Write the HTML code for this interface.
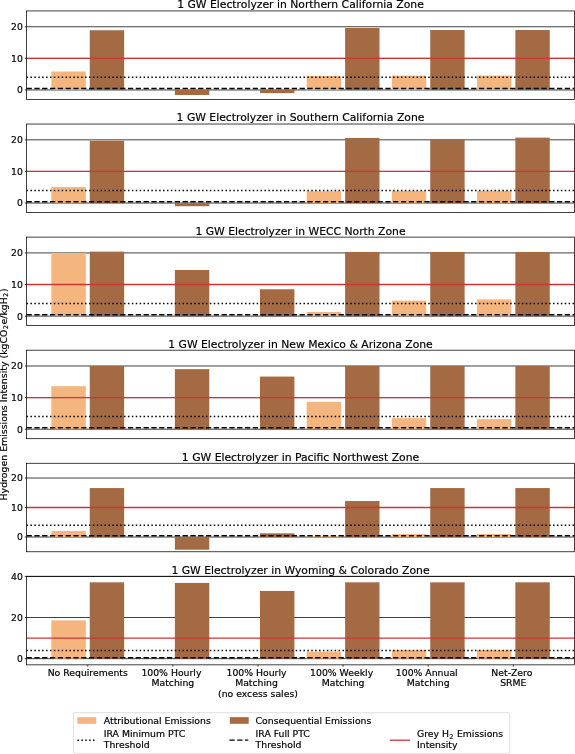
<!DOCTYPE html>
<html><head><meta charset="utf-8"><title>Hydrogen Emissions Intensity</title>
<style>
html,body{margin:0;padding:0;background:#fff;width:575px;height:754px;overflow:hidden}
svg{display:block;font-family:'DejaVu Sans', 'Liberation Sans', sans-serif;fill:#000}
text{fill:#000;stroke:#000;stroke-width:0.18px}
</style></head>
<body>
<svg width="575" height="754" viewBox="0 0 575 754">
<rect width="575" height="754" fill="#fff"/>
<line x1="26.55" x2="574.45" y1="89.97" y2="89.97" stroke="#000" stroke-width="0.75"/>
<line x1="26.55" x2="574.45" y1="58.36" y2="58.36" stroke="#000" stroke-width="0.75"/>
<line x1="26.55" x2="574.45" y1="26.75" y2="26.75" stroke="#000" stroke-width="0.75"/>
<rect x="51.35" y="71.48" width="34.4" height="18.49" fill="#f4b57e"/>
<rect x="89.75" y="30.23" width="34.4" height="59.74" fill="#a36a43"/>
<rect x="174.87" y="89.97" width="34.4" height="5.06" fill="#a36a43"/>
<rect x="259.99" y="89.97" width="34.4" height="3.16" fill="#a36a43"/>
<rect x="306.71" y="76.06" width="34.4" height="13.91" fill="#f4b57e"/>
<rect x="345.11" y="28.02" width="34.4" height="61.95" fill="#a36a43"/>
<rect x="391.83" y="75.59" width="34.4" height="14.38" fill="#f4b57e"/>
<rect x="430.23" y="30.04" width="34.4" height="59.93" fill="#a36a43"/>
<rect x="476.95" y="75.59" width="34.4" height="14.38" fill="#f4b57e"/>
<rect x="515.35" y="30.04" width="34.4" height="59.93" fill="#a36a43"/>
<line x1="26.55" x2="574.45" y1="58.36" y2="58.36" stroke="#cf3538" stroke-width="1.3"/>
<line x1="26.55" x2="574.45" y1="77.33" y2="77.33" stroke="#000" stroke-width="1.5" stroke-dasharray="1.5 2.4"/>
<line x1="26.55" x2="574.45" y1="88.55" y2="88.55" stroke="#000" stroke-width="1.5" stroke-dasharray="5.3 2.5"/>
<rect x="26.55" y="10.95" width="547.9" height="88.5" fill="none" stroke="#000" stroke-width="0.75"/>
<line x1="24.75" x2="26.55" y1="89.97" y2="89.97" stroke="#000" stroke-width="0.75"/>
<text x="22.9" y="93.37" text-anchor="end" font-size="9.3">0</text>
<line x1="24.75" x2="26.55" y1="58.36" y2="58.36" stroke="#000" stroke-width="0.75"/>
<text x="22.9" y="61.76" text-anchor="end" font-size="9.3">10</text>
<line x1="24.75" x2="26.55" y1="26.75" y2="26.75" stroke="#000" stroke-width="0.75"/>
<text x="22.9" y="30.15" text-anchor="end" font-size="9.3">20</text>
<text x="300.5" y="8.4" text-anchor="middle" font-size="10.8">1 GW Electrolyzer in Northern California Zone</text>
<line x1="26.55" x2="574.45" y1="203.05" y2="203.05" stroke="#000" stroke-width="0.75"/>
<line x1="26.55" x2="574.45" y1="171.44" y2="171.44" stroke="#000" stroke-width="0.75"/>
<line x1="26.55" x2="574.45" y1="139.83" y2="139.83" stroke="#000" stroke-width="0.75"/>
<rect x="51.35" y="186.93" width="34.4" height="16.12" fill="#f4b57e"/>
<rect x="89.75" y="140.78" width="34.4" height="62.27" fill="#a36a43"/>
<rect x="174.87" y="203.05" width="34.4" height="3.16" fill="#a36a43"/>
<rect x="306.71" y="191.2" width="34.4" height="11.85" fill="#f4b57e"/>
<rect x="345.11" y="137.94" width="34.4" height="65.11" fill="#a36a43"/>
<rect x="391.83" y="190.88" width="34.4" height="12.17" fill="#f4b57e"/>
<rect x="430.23" y="138.98" width="34.4" height="64.07" fill="#a36a43"/>
<rect x="476.95" y="190.88" width="34.4" height="12.17" fill="#f4b57e"/>
<rect x="515.35" y="137.62" width="34.4" height="65.43" fill="#a36a43"/>
<line x1="26.55" x2="574.45" y1="171.44" y2="171.44" stroke="#cf3538" stroke-width="1.3"/>
<line x1="26.55" x2="574.45" y1="190.41" y2="190.41" stroke="#000" stroke-width="1.5" stroke-dasharray="1.5 2.4"/>
<line x1="26.55" x2="574.45" y1="201.63" y2="201.63" stroke="#000" stroke-width="1.5" stroke-dasharray="5.3 2.5"/>
<rect x="26.55" y="124.03" width="547.9" height="88.5" fill="none" stroke="#000" stroke-width="0.75"/>
<line x1="24.75" x2="26.55" y1="203.05" y2="203.05" stroke="#000" stroke-width="0.75"/>
<text x="22.9" y="206.45" text-anchor="end" font-size="9.3">0</text>
<line x1="24.75" x2="26.55" y1="171.44" y2="171.44" stroke="#000" stroke-width="0.75"/>
<text x="22.9" y="174.84" text-anchor="end" font-size="9.3">10</text>
<line x1="24.75" x2="26.55" y1="139.83" y2="139.83" stroke="#000" stroke-width="0.75"/>
<text x="22.9" y="143.23" text-anchor="end" font-size="9.3">20</text>
<text x="300.5" y="121.48" text-anchor="middle" font-size="10.8">1 GW Electrolyzer in Southern California Zone</text>
<line x1="26.55" x2="574.45" y1="316.13" y2="316.13" stroke="#000" stroke-width="0.75"/>
<line x1="26.55" x2="574.45" y1="284.52" y2="284.52" stroke="#000" stroke-width="0.75"/>
<line x1="26.55" x2="574.45" y1="252.91" y2="252.91" stroke="#000" stroke-width="0.75"/>
<rect x="51.35" y="252.91" width="34.4" height="63.21" fill="#f4b57e"/>
<rect x="89.75" y="251.65" width="34.4" height="64.48" fill="#a36a43"/>
<rect x="174.87" y="269.98" width="34.4" height="46.15" fill="#a36a43"/>
<rect x="259.99" y="289.26" width="34.4" height="26.87" fill="#a36a43"/>
<rect x="306.71" y="312.02" width="34.4" height="4.11" fill="#f4b57e"/>
<rect x="345.11" y="251.97" width="34.4" height="64.16" fill="#a36a43"/>
<rect x="391.83" y="300.64" width="34.4" height="15.49" fill="#f4b57e"/>
<rect x="430.23" y="251.97" width="34.4" height="64.16" fill="#a36a43"/>
<rect x="476.95" y="299.38" width="34.4" height="16.75" fill="#f4b57e"/>
<rect x="515.35" y="251.97" width="34.4" height="64.16" fill="#a36a43"/>
<line x1="26.55" x2="574.45" y1="284.52" y2="284.52" stroke="#cf3538" stroke-width="1.3"/>
<line x1="26.55" x2="574.45" y1="303.49" y2="303.49" stroke="#000" stroke-width="1.5" stroke-dasharray="1.5 2.4"/>
<line x1="26.55" x2="574.45" y1="314.71" y2="314.71" stroke="#000" stroke-width="1.5" stroke-dasharray="5.3 2.5"/>
<rect x="26.55" y="237.11" width="547.9" height="88.5" fill="none" stroke="#000" stroke-width="0.75"/>
<line x1="24.75" x2="26.55" y1="316.13" y2="316.13" stroke="#000" stroke-width="0.75"/>
<text x="22.9" y="319.53" text-anchor="end" font-size="9.3">0</text>
<line x1="24.75" x2="26.55" y1="284.52" y2="284.52" stroke="#000" stroke-width="0.75"/>
<text x="22.9" y="287.92" text-anchor="end" font-size="9.3">10</text>
<line x1="24.75" x2="26.55" y1="252.91" y2="252.91" stroke="#000" stroke-width="0.75"/>
<text x="22.9" y="256.31" text-anchor="end" font-size="9.3">20</text>
<text x="300.5" y="234.56" text-anchor="middle" font-size="10.8">1 GW Electrolyzer in WECC North Zone</text>
<line x1="26.55" x2="574.45" y1="429.21" y2="429.21" stroke="#000" stroke-width="0.75"/>
<line x1="26.55" x2="574.45" y1="397.6" y2="397.6" stroke="#000" stroke-width="0.75"/>
<line x1="26.55" x2="574.45" y1="365.99" y2="365.99" stroke="#000" stroke-width="0.75"/>
<rect x="51.35" y="386.22" width="34.4" height="42.99" fill="#f4b57e"/>
<rect x="89.75" y="365.99" width="34.4" height="63.21" fill="#a36a43"/>
<rect x="174.87" y="369.15" width="34.4" height="60.05" fill="#a36a43"/>
<rect x="259.99" y="376.58" width="34.4" height="52.63" fill="#a36a43"/>
<rect x="306.71" y="401.87" width="34.4" height="27.34" fill="#f4b57e"/>
<rect x="345.11" y="365.99" width="34.4" height="63.21" fill="#a36a43"/>
<rect x="391.83" y="418.15" width="34.4" height="11.06" fill="#f4b57e"/>
<rect x="430.23" y="365.99" width="34.4" height="63.21" fill="#a36a43"/>
<rect x="476.95" y="419.09" width="34.4" height="10.11" fill="#f4b57e"/>
<rect x="515.35" y="365.99" width="34.4" height="63.21" fill="#a36a43"/>
<line x1="26.55" x2="574.45" y1="397.6" y2="397.6" stroke="#cf3538" stroke-width="1.3"/>
<line x1="26.55" x2="574.45" y1="416.56" y2="416.56" stroke="#000" stroke-width="1.5" stroke-dasharray="1.5 2.4"/>
<line x1="26.55" x2="574.45" y1="427.79" y2="427.79" stroke="#000" stroke-width="1.5" stroke-dasharray="5.3 2.5"/>
<rect x="26.55" y="350.19" width="547.9" height="88.5" fill="none" stroke="#000" stroke-width="0.75"/>
<line x1="24.75" x2="26.55" y1="429.21" y2="429.21" stroke="#000" stroke-width="0.75"/>
<text x="22.9" y="432.61" text-anchor="end" font-size="9.3">0</text>
<line x1="24.75" x2="26.55" y1="397.6" y2="397.6" stroke="#000" stroke-width="0.75"/>
<text x="22.9" y="401" text-anchor="end" font-size="9.3">10</text>
<line x1="24.75" x2="26.55" y1="365.99" y2="365.99" stroke="#000" stroke-width="0.75"/>
<text x="22.9" y="369.39" text-anchor="end" font-size="9.3">20</text>
<text x="300.5" y="347.64" text-anchor="middle" font-size="10.8">1 GW Electrolyzer in New Mexico &amp; Arizona Zone</text>
<line x1="26.55" x2="574.45" y1="537.02" y2="537.02" stroke="#000" stroke-width="0.75"/>
<line x1="26.55" x2="574.45" y1="507.52" y2="507.52" stroke="#000" stroke-width="0.75"/>
<line x1="26.55" x2="574.45" y1="478.02" y2="478.02" stroke="#000" stroke-width="0.75"/>
<rect x="51.35" y="530.97" width="34.4" height="6.05" fill="#f4b57e"/>
<rect x="89.75" y="488.05" width="34.4" height="48.97" fill="#a36a43"/>
<rect x="174.87" y="537.02" width="34.4" height="12.68" fill="#a36a43"/>
<rect x="259.99" y="533.3" width="34.4" height="3.72" fill="#a36a43"/>
<rect x="306.71" y="536.13" width="34.4" height="0.88" fill="#f4b57e"/>
<rect x="345.11" y="501.03" width="34.4" height="35.99" fill="#a36a43"/>
<rect x="391.83" y="534.07" width="34.4" height="2.95" fill="#f4b57e"/>
<rect x="430.23" y="488.05" width="34.4" height="48.97" fill="#a36a43"/>
<rect x="476.95" y="534.07" width="34.4" height="2.95" fill="#f4b57e"/>
<rect x="515.35" y="488.05" width="34.4" height="48.97" fill="#a36a43"/>
<line x1="26.55" x2="574.45" y1="507.52" y2="507.52" stroke="#cf3538" stroke-width="1.3"/>
<line x1="26.55" x2="574.45" y1="525.22" y2="525.22" stroke="#000" stroke-width="1.5" stroke-dasharray="1.5 2.4"/>
<line x1="26.55" x2="574.45" y1="535.69" y2="535.69" stroke="#000" stroke-width="1.5" stroke-dasharray="5.3 2.5"/>
<rect x="26.55" y="463.27" width="547.9" height="88.5" fill="none" stroke="#000" stroke-width="0.75"/>
<line x1="24.75" x2="26.55" y1="537.02" y2="537.02" stroke="#000" stroke-width="0.75"/>
<text x="22.9" y="540.42" text-anchor="end" font-size="9.3">0</text>
<line x1="24.75" x2="26.55" y1="507.52" y2="507.52" stroke="#000" stroke-width="0.75"/>
<text x="22.9" y="510.92" text-anchor="end" font-size="9.3">10</text>
<line x1="24.75" x2="26.55" y1="478.02" y2="478.02" stroke="#000" stroke-width="0.75"/>
<text x="22.9" y="481.42" text-anchor="end" font-size="9.3">20</text>
<text x="300.5" y="460.72" text-anchor="middle" font-size="10.8">1 GW Electrolyzer in Pacific Northwest Zone</text>
<line x1="26.55" x2="574.45" y1="658.68" y2="658.68" stroke="#000" stroke-width="0.75"/>
<line x1="26.55" x2="574.45" y1="617.51" y2="617.51" stroke="#000" stroke-width="0.75"/>
<line x1="26.55" x2="574.45" y1="576.35" y2="576.35" stroke="#000" stroke-width="0.75"/>
<rect x="51.35" y="620.39" width="34.4" height="38.28" fill="#f4b57e"/>
<rect x="89.75" y="582.32" width="34.4" height="76.36" fill="#a36a43"/>
<rect x="174.87" y="582.94" width="34.4" height="75.74" fill="#a36a43"/>
<rect x="259.99" y="590.96" width="34.4" height="67.71" fill="#a36a43"/>
<rect x="306.71" y="651.68" width="34.4" height="7" fill="#f4b57e"/>
<rect x="345.11" y="582.32" width="34.4" height="76.36" fill="#a36a43"/>
<rect x="391.83" y="650.03" width="34.4" height="8.64" fill="#f4b57e"/>
<rect x="430.23" y="582.32" width="34.4" height="76.36" fill="#a36a43"/>
<rect x="476.95" y="650.03" width="34.4" height="8.64" fill="#f4b57e"/>
<rect x="515.35" y="582.32" width="34.4" height="76.36" fill="#a36a43"/>
<line x1="26.55" x2="574.45" y1="638.09" y2="638.09" stroke="#cf3538" stroke-width="1.3"/>
<line x1="26.55" x2="574.45" y1="650.44" y2="650.44" stroke="#000" stroke-width="1.5" stroke-dasharray="1.5 2.4"/>
<line x1="26.55" x2="574.45" y1="657.75" y2="657.75" stroke="#000" stroke-width="1.5" stroke-dasharray="5.3 2.5"/>
<rect x="26.55" y="576.35" width="547.9" height="88.5" fill="none" stroke="#000" stroke-width="0.75"/>
<line x1="24.75" x2="26.55" y1="658.68" y2="658.68" stroke="#000" stroke-width="0.75"/>
<text x="22.9" y="662.08" text-anchor="end" font-size="9.3">0</text>
<line x1="24.75" x2="26.55" y1="617.51" y2="617.51" stroke="#000" stroke-width="0.75"/>
<text x="22.9" y="620.91" text-anchor="end" font-size="9.3">20</text>
<line x1="24.75" x2="26.55" y1="576.35" y2="576.35" stroke="#000" stroke-width="0.75"/>
<text x="22.9" y="579.75" text-anchor="end" font-size="9.3">40</text>
<text x="300.5" y="573.8" text-anchor="middle" font-size="10.8">1 GW Electrolyzer in Wyoming &amp; Colorado Zone</text>
<line x1="87.75" x2="87.75" y1="664.85" y2="666.65" stroke="#000" stroke-width="0.75"/>
<text x="87.75" y="675.9" text-anchor="middle" font-size="9.3" xml:space="preserve">No Requirements</text>
<line x1="172.87" x2="172.87" y1="664.85" y2="666.65" stroke="#000" stroke-width="0.75"/>
<text x="172.87" y="675.9" text-anchor="middle" font-size="9.3" xml:space="preserve">100% Hourly </text>
<text x="172.87" y="686.2" text-anchor="middle" font-size="9.3" xml:space="preserve">Matching</text>
<line x1="257.99" x2="257.99" y1="664.85" y2="666.65" stroke="#000" stroke-width="0.75"/>
<text x="257.99" y="675.9" text-anchor="middle" font-size="9.3" xml:space="preserve">100% Hourly </text>
<text x="257.99" y="686.2" text-anchor="middle" font-size="9.3" xml:space="preserve">Matching </text>
<text x="257.99" y="696.5" text-anchor="middle" font-size="9.3" xml:space="preserve">(no excess sales)</text>
<line x1="343.11" x2="343.11" y1="664.85" y2="666.65" stroke="#000" stroke-width="0.75"/>
<text x="343.11" y="675.9" text-anchor="middle" font-size="9.3" xml:space="preserve">100% Weekly </text>
<text x="343.11" y="686.2" text-anchor="middle" font-size="9.3" xml:space="preserve">Matching</text>
<line x1="428.23" x2="428.23" y1="664.85" y2="666.65" stroke="#000" stroke-width="0.75"/>
<text x="428.23" y="675.9" text-anchor="middle" font-size="9.3" xml:space="preserve">100% Annual </text>
<text x="428.23" y="686.2" text-anchor="middle" font-size="9.3" xml:space="preserve">Matching</text>
<line x1="513.35" x2="513.35" y1="664.85" y2="666.65" stroke="#000" stroke-width="0.75"/>
<text x="513.35" y="675.9" text-anchor="middle" font-size="9.3" xml:space="preserve">Net-Zero </text>
<text x="513.35" y="686.2" text-anchor="middle" font-size="9.3" xml:space="preserve">SRME</text>
<text transform="translate(6.9,394.44) rotate(-90)" text-anchor="middle" font-size="9.38">Hydrogen Emissions Intensity (kgCO<tspan font-size="6.5" dx="0.2" dy="1.4">2</tspan><tspan dx="0.7" dy="-1.4">e/kgH</tspan><tspan font-size="6.5" dx="0.2" dy="1.4">2</tspan><tspan dx="0.7" dy="-1.4">)</tspan></text>
<rect x="73.55" y="712.7" width="436.2" height="40.7" rx="1.4" ry="1.4" fill="#fff" fill-opacity="0.8" stroke="#d6d6d6" stroke-width="0.8"/>
<rect x="77.35" y="717.2" width="18.9" height="6.6" fill="#f4b57e"/>
<text x="103.8" y="723.7" font-size="9.3">Attributional Emissions</text>
<line x1="77.45" x2="96.35" y1="740.2" y2="740.2" stroke="#000" stroke-width="1.5" stroke-dasharray="1.5 2.4"/>
<text x="103.8" y="737.2" font-size="9.3">IRA Minimum PTC</text>
<text x="103.8" y="747.7" font-size="9.3">Threshold</text>
<rect x="229.8" y="717.2" width="18.9" height="6.6" fill="#a36a43"/>
<text x="255.6" y="723.7" font-size="9.3">Consequential Emissions</text>
<line x1="229.4" x2="248.3" y1="740.2" y2="740.2" stroke="#000" stroke-width="1.3" stroke-dasharray="5.3 2.5"/>
<text x="255.6" y="737.2" font-size="9.3">IRA Full PTC</text>
<text x="255.6" y="747.7" font-size="9.3">Threshold</text>
<line x1="389.8" x2="410.1" y1="740.2" y2="740.2" stroke="#cf3538" stroke-width="1.3"/>
<text x="417.0" y="737.2" font-size="9.3">Grey H<tspan font-size="6.5" dx="0.2" dy="1.4">2</tspan><tspan dx="0.6" dy="-1.4"> Emissions</tspan></text>
<text x="417.0" y="747.7" font-size="9.3">Intensity</text>
</svg>
</body></html>
